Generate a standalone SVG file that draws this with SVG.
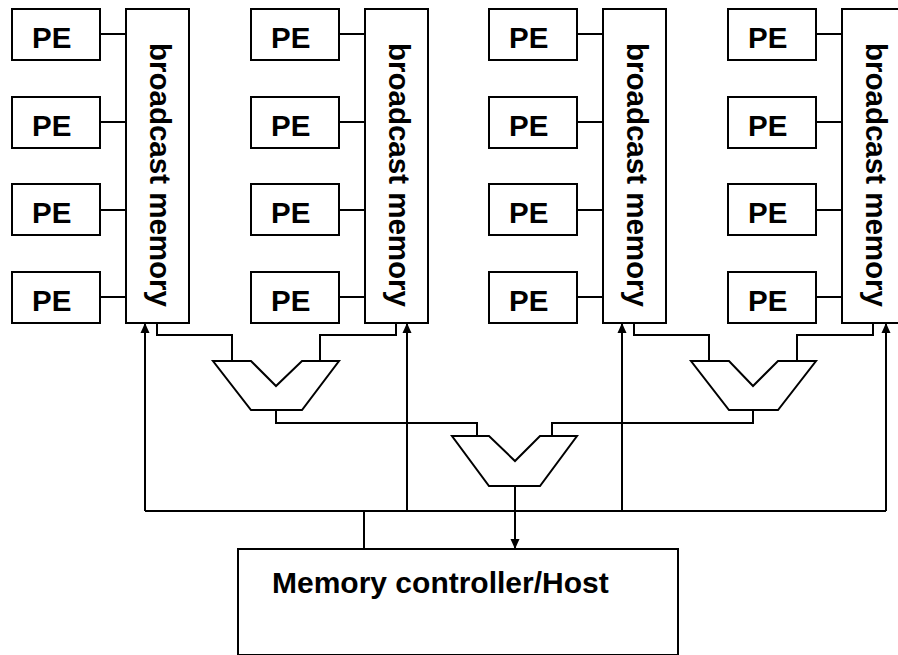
<svg xmlns="http://www.w3.org/2000/svg" width="898" height="655" viewBox="0 0 898 655">
  <style>
    .box { fill: #fff; stroke: #000; stroke-width: 2; }
    .wire { fill: none; stroke: #000; stroke-width: 2; }
    .lbl { font-family: "Liberation Sans", Arial, sans-serif; font-weight: bold; font-size: 29.5px; fill: #000; }
    .host-lbl { font-size: 30px; }
  </style>
  <defs>
    <marker id="arrow" markerUnits="userSpaceOnUse" markerWidth="10" markerHeight="10" viewBox="0 0 10 10" refX="10" refY="5" orient="auto">
      <path d="M0,0.5 L10,5 L0,9.5 Z" fill="#000"/>
    </marker>
  </defs>
  <rect width="898" height="655" fill="#fff"/>

  <!-- connectors -->
  <g id="connectors" class="wire">
    <!-- PE to broadcast memory links, per cluster -->
    <g id="pe-links">
      <path d="M100,34H126M100,122H126M100,210H126M100,297H126"/>
      <path d="M339,34H365M339,122H365M339,210H365M339,297H365"/>
      <path d="M577,34H603M577,122H603M577,210H603M577,297H603"/>
      <path d="M816,34H842M816,122H842M816,210H842M816,297H842"/>
    </g>
    <!-- memory outputs into the reduction tree -->
    <path d="M157,323V335H232V361"/>
    <path d="M396,323V335H320V361"/>
    <path d="M634,323V335H709V361"/>
    <path d="M873,323V335H797V361"/>
    <path d="M276,410V423H477V436"/>
    <path d="M753,410V423H552V436"/>
    <!-- broadcast bus -->
    <path d="M145,511H886"/>
    <path d="M364,511V549"/>
    <path d="M145,511V323" marker-end="url(#arrow)"/>
    <path d="M407,511V323" marker-end="url(#arrow)"/>
    <path d="M622,511V323" marker-end="url(#arrow)"/>
    <path d="M886,511V323" marker-end="url(#arrow)"/>
    <path d="M515,486V549" marker-end="url(#arrow)"/>
  </g>

  <!-- cluster 1 -->
  <g id="cluster1">
    <g id="pe1-1"><rect class="box" x="12" y="9" width="88" height="51"/><text class="lbl" x="32" y="47.5">PE</text></g>
    <g id="pe1-2"><rect class="box" x="12" y="97" width="88" height="51"/><text class="lbl" x="32" y="135.5">PE</text></g>
    <g id="pe1-3"><rect class="box" x="12" y="184" width="88" height="51"/><text class="lbl" x="32" y="222.5">PE</text></g>
    <g id="pe1-4"><rect class="box" x="12" y="272" width="88" height="51"/><text class="lbl" x="32" y="310.5">PE</text></g>
    <g id="mem1"><rect class="box" x="126" y="9" width="63" height="314"/><text class="lbl" transform="translate(150,43) rotate(90)">broadcast memory</text></g>
  </g>

  <!-- cluster 2 -->
  <g id="cluster2">
    <g id="pe2-1"><rect class="box" x="251" y="9" width="88" height="51"/><text class="lbl" x="271" y="47.5">PE</text></g>
    <g id="pe2-2"><rect class="box" x="251" y="97" width="88" height="51"/><text class="lbl" x="271" y="135.5">PE</text></g>
    <g id="pe2-3"><rect class="box" x="251" y="184" width="88" height="51"/><text class="lbl" x="271" y="222.5">PE</text></g>
    <g id="pe2-4"><rect class="box" x="251" y="272" width="88" height="51"/><text class="lbl" x="271" y="310.5">PE</text></g>
    <g id="mem2"><rect class="box" x="365" y="9" width="63" height="314"/><text class="lbl" transform="translate(389,43) rotate(90)">broadcast memory</text></g>
  </g>

  <!-- cluster 3 -->
  <g id="cluster3">
    <g id="pe3-1"><rect class="box" x="489" y="9" width="88" height="51"/><text class="lbl" x="509" y="47.5">PE</text></g>
    <g id="pe3-2"><rect class="box" x="489" y="97" width="88" height="51"/><text class="lbl" x="509" y="135.5">PE</text></g>
    <g id="pe3-3"><rect class="box" x="489" y="184" width="88" height="51"/><text class="lbl" x="509" y="222.5">PE</text></g>
    <g id="pe3-4"><rect class="box" x="489" y="272" width="88" height="51"/><text class="lbl" x="509" y="310.5">PE</text></g>
    <g id="mem3"><rect class="box" x="603" y="9" width="63" height="314"/><text class="lbl" transform="translate(627,43) rotate(90)">broadcast memory</text></g>
  </g>

  <!-- cluster 4 -->
  <g id="cluster4">
    <g id="pe4-1"><rect class="box" x="728" y="9" width="88" height="51"/><text class="lbl" x="748" y="47.5">PE</text></g>
    <g id="pe4-2"><rect class="box" x="728" y="97" width="88" height="51"/><text class="lbl" x="748" y="135.5">PE</text></g>
    <g id="pe4-3"><rect class="box" x="728" y="184" width="88" height="51"/><text class="lbl" x="748" y="222.5">PE</text></g>
    <g id="pe4-4"><rect class="box" x="728" y="272" width="88" height="51"/><text class="lbl" x="748" y="310.5">PE</text></g>
    <g id="mem4"><rect class="box" x="842" y="9" width="63" height="314"/><text class="lbl" transform="translate(866,43) rotate(90)">broadcast memory</text></g>
  </g>

  <!-- reduction units -->
  <g id="reduce-left"><path class="box" d="M213,361H251L276,386L302,361H339L302,410H251Z"/></g>
  <g id="reduce-center"><path class="box" d="M452,436H489L515,461L540,436H577L540,486H489Z"/></g>
  <g id="reduce-right"><path class="box" d="M691,361H729L753,386L778,361H816L778,410H729Z"/></g>

  <!-- host -->
  <g id="host">
    <rect class="box" x="238" y="549" width="440" height="106"/>
    <text class="lbl host-lbl" x="272" y="593">Memory controller/Host</text>
  </g>
</svg>
